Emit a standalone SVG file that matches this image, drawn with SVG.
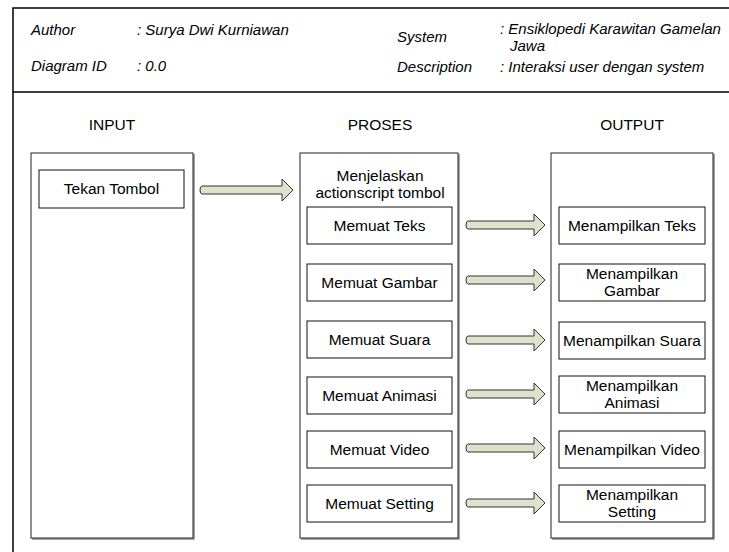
<svg xmlns="http://www.w3.org/2000/svg" width="729" height="552" viewBox="0 0 729 552">
<style>
text{font-family:"Liberation Sans",Arial,sans-serif;font-size:15.5px;fill:#000}
.h{font-style:italic;font-size:15px}
.c{text-anchor:middle}
.panel{fill:#fff;stroke:#222;stroke-width:1}
.shadow{fill:none;stroke:#888;stroke-width:1.5}
.box{fill:#fff;stroke:#111;stroke-width:1}
.frame{stroke:#000;stroke-width:1.5;fill:none}
.arr{fill:#dde2cd;stroke:#333;stroke-width:1}
</style>
<rect width="729" height="552" fill="#fff"/>
<g id="frame">
<path class="frame" d="M13,552 L13,8 L729,8 M13,92 L729,92"/>
</g>
<g id="header">
<text class="h" x="31" y="35">Author</text>
<text class="h" x="137" y="35">: Surya Dwi Kurniawan</text>
<text class="h" x="31" y="71">Diagram ID</text>
<text class="h" x="137" y="71">: 0.0</text>
<text class="h" x="397" y="42">System</text>
<text class="h" x="500" y="34">: Ensiklopedi Karawitan Gamelan</text>
<text class="h" x="510" y="51">Jawa</text>
<text class="h" x="397" y="72">Description</text>
<text class="h" x="500" y="72">: Interaksi user dengan system</text>
</g>
<g id="input">
<text class="c" x="112" y="130">INPUT</text>
<path class="shadow" d="M194,154 L194,539 L32,539"/>
<rect class="panel" x="31" y="153" width="162" height="385"/>
</g>
<g id="proses">
<text class="c" x="380" y="130">PROSES</text>
<path class="shadow" d="M459,154 L459,539 L301,539"/>
<rect class="panel" x="300" y="153" width="158" height="385"/>
<text class="c" x="380" y="181">Menjelaskan</text>
<text class="c" x="380" y="198">actionscript tombol</text>
</g>
<g id="output">
<text class="c" x="632" y="130">OUTPUT</text>
<path class="shadow" d="M714,154 L714,539 L552,539"/>
<rect class="panel" x="551" y="153" width="162" height="385"/>
</g>
<g id="tekan-tombol">
<rect class="box" x="39" y="170" width="145" height="38"/>
<text class="c" x="111.5" y="194">Tekan Tombol</text>
</g>
<g id="memuat-teks"><rect class="box" x="307" y="207" width="145" height="37"/><text class="c" x="379.5" y="231">Memuat Teks</text></g>
<g id="memuat-gambar"><rect class="box" x="307" y="264" width="145" height="37"/><text class="c" x="379.5" y="288">Memuat Gambar</text></g>
<g id="memuat-suara"><rect class="box" x="307" y="321" width="145" height="37"/><text class="c" x="379.5" y="345">Memuat Suara</text></g>
<g id="memuat-animasi"><rect class="box" x="307" y="377" width="145" height="37"/><text class="c" x="379.5" y="401">Memuat Animasi</text></g>
<g id="memuat-video"><rect class="box" x="307" y="431" width="145" height="37"/><text class="c" x="379.5" y="455">Memuat Video</text></g>
<g id="memuat-setting"><rect class="box" x="307" y="485" width="145" height="37"/><text class="c" x="379.5" y="509">Memuat Setting</text></g>
<g id="menampilkan-teks"><rect class="box" x="559" y="207" width="146" height="37"/><text class="c" x="632" y="231">Menampilkan Teks</text></g>
<g id="menampilkan-gambar"><rect class="box" x="559" y="264" width="146" height="37"/><text class="c" x="632" y="279">Menampilkan</text><text class="c" x="632" y="296">Gambar</text></g>
<g id="menampilkan-suara"><rect class="box" x="559" y="322" width="146" height="37"/><text class="c" x="632" y="346">Menampilkan Suara</text></g>
<g id="menampilkan-animasi"><rect class="box" x="559" y="376" width="146" height="37"/><text class="c" x="632" y="391">Menampilkan</text><text class="c" x="632" y="408">Animasi</text></g>
<g id="menampilkan-video"><rect class="box" x="559" y="431" width="146" height="37"/><text class="c" x="632" y="455">Menampilkan Video</text></g>
<g id="menampilkan-setting"><rect class="box" x="559" y="485" width="146" height="37"/><text class="c" x="632" y="500">Menampilkan</text><text class="c" x="632" y="517">Setting</text></g>
<g id="connectors">
<path class="arr" d="M293,190 L282,179 L282,186 L202,186 Q200,186 200,190 Q200,194 202,194 L282,194 L282,201 Z"/>
<path class="arr" d="M545,225 L534,214 L534,221 L468,221 Q466,221 466,225 Q466,229 468,229 L534,229 L534,236 Z"/>
<path class="arr" d="M545,280 L534,269 L534,276 L468,276 Q466,276 466,280 Q466,284 468,284 L534,284 L534,291 Z"/>
<path class="arr" d="M545,340 L534,329 L534,336 L468,336 Q466,336 466,340 Q466,344 468,344 L534,344 L534,351 Z"/>
<path class="arr" d="M545,394 L534,383 L534,390 L468,390 Q466,390 466,394 Q466,398 468,398 L534,398 L534,405 Z"/>
<path class="arr" d="M545,448 L534,437 L534,444 L468,444 Q466,444 466,448 Q466,452 468,452 L534,452 L534,459 Z"/>
<path class="arr" d="M545,503 L534,492 L534,499 L468,499 Q466,499 466,503 Q466,507 468,507 L534,507 L534,514 Z"/>
</g>
</svg>
